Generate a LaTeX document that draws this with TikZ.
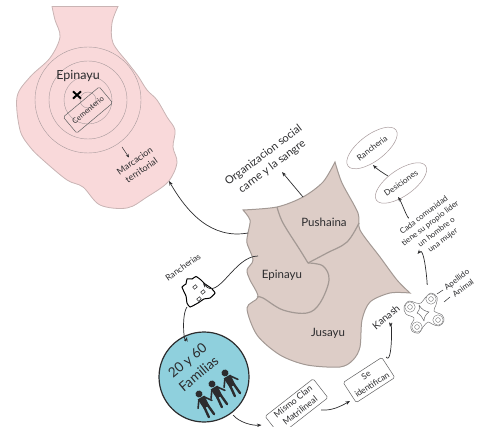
\documentclass[tikz,border=0pt]{standalone}
\usepackage{fontspec}
\setmainfont{Lato}
\usetikzlibrary{calc,arrows.meta,shapes.geometric}
\definecolor{pinkland}{HTML}{F9D9DA}
\definecolor{pinkedge}{HTML}{C9B4B4}
\definecolor{beigeland}{HTML}{DDCDC7}
\definecolor{beigeedge}{HTML}{A39994}
\definecolor{tealfill}{HTML}{8FD0DD}
\definecolor{ink}{HTML}{2C2C2E}
\definecolor{hair}{HTML}{A89A9C}
\tikzset{
  arr/.style={draw=ink,line width=.7pt,-{Stealth[length=4.5pt,width=3.5pt]}},
  txt/.style={text=ink,inner sep=0pt,align=center,font=\fontsize{#1}{#1}\selectfont},
  txt/.default=8,
  lab/.style={text=ink,inner sep=0pt,align=center,rotate=37,font=\fontsize{#1pt}{\dimexpr#1pt*130/100\relax}\selectfont},
  boxy/.style={draw=ink!75,fill=white,line width=.5pt,rounded corners=1.5pt,rotate=#1,minimum height=24pt,inner sep=0pt},
  oval/.style={draw=hair,fill=white,line width=.5pt,inner sep=0pt},
  ringline/.style={draw=hair,line width=.4pt,fill=none},
  border/.style={draw=beigeedge,line width=1.2pt},
  ring/.style={draw=ink!65,fill=white,line width=.4pt},
}
\newcommand{\guy}[2]{%
  \begin{scope}[shift={(#1,#2)},rotate=30]
    \fill[ink] (0,0) circle[radius=3.5pt];
    \fill[ink] (-3.8,4) -- (3.8,4) -- (3.2,15) -- (-3.2,15) -- cycle;
    \draw[ink,line width=2.4pt,line cap=round] (-2,14) -- (-3,25) (2,14) -- (3,25);
    \draw[ink,line width=1.6pt,line cap=round] (-3,5) -- (-8,12) (3,5) -- (8,12);
  \end{scope}}
\begin{document}
\begin{tikzpicture}[x=1pt,y=-1pt]
\useasboundingbox (0,0) rectangle (478,427);
% pink territory
\path[fill=pinkland,draw=pinkedge,line width=.8pt]
  (52,6.5) -- (118,6.5)
  plot[smooth,tension=.55] coordinates {(118,6.5) (112,23) (113,43) (128,63) (138,76) (147,90) (157,100) (167,117) (175,130) (173,147) (177,163) (168,182) (147,197) (127,208) (100,205) (83,187) (67,180) (43,160) (30,147) (20,130) (17,97) (30,77) (50,58) (60,37) (55,20) (52,6.5)} -- cycle;
\coordinate (pinkShore) at (169,181);
\coordinate (ringEdge) at (122,147);
\foreach \r in {53,39,24,8} \draw[ringline] (88,100) circle[radius=\r pt];
\node[txt=12.5] (epiTop) at (78,76) {Epinayu};
\node[boxy=40,fill=none,minimum width=47pt,minimum height=21pt] (cem) at (88,110) {\fontsize{7.5}{7.5}\selectfont\color{ink}Cementerio};
\coordinate (crossC) at (77,95);
\draw[black,line width=1.9pt] ($(crossC)+(-4,-3.6)$) -- ($(crossC)+(4,3.6)$) ($(crossC)+(4,-3.6)$) -- ($(crossC)+(-4,3.6)$);
\node[lab=9,rotate=-2] (marc) at (138,165.5) {Marcacion\\territorial};
\draw[draw=ink,line width=.5pt,-{Stealth[length=3.5pt,width=3pt]}] (ringEdge) -- ($(marc)+(-9,-8)$);
% beige territory
\path[fill=beigeland,draw=beigeedge,line width=1pt]
  plot[smooth,tension=.5] coordinates {(335,162) (342,183) (358,213) (360,230) (380,257) (397,280) (410,293)}
  -- plot[smooth,tension=.5] coordinates {(410,293) (390,293) (370,302) (362,320) (360,347) (353,360) (340,367) (307,365) (280,355) (257,335) (247,308) (258,297) (250,280) (247,270) (253,260) (247,243) (248,233) (250,220) (243,210)}
  -- plot[smooth,tension=.5] coordinates {(243,210) (277,207) (303,197) (323,182) (335,162)} -- cycle;
\draw[border] plot[smooth,tension=.6] coordinates {(277,207) (283,223) (300,250) (308,263)};
\draw[border] plot[smooth,tension=.6] coordinates {(359,223) (347,242) (327,253) (308,263)};
\draw[border] plot[smooth,tension=.6] coordinates {(308,263) (323,266) (329,280) (320,303) (307,313) (283,310) (263,298) (257,297)};
\coordinate (beigeA) at (248,233);
\coordinate (beigeB) at (258,256);
\coordinate (beigeC) at (303,197);
\node[txt=11.5] (push) at (324,222) {Pushaina};
\node[txt=11.5] (epi) at (282,275) {Epinayu};
\node[txt=11.5] (jus) at (328,333) {Jusayu};
% headline
\node[lab=11] (org) at (268,161) {Organizacion social\\carne y la sangre};
\draw[arr] (beigeC) -- ($(org)+(14,11)$);
\draw[arr] (beigeA) to[out=190,in=-60,looseness=1] (pinkShore);
% rancherias
\node[txt=8.5,rotate=35] (ranLab) at (183,267) {Rancherias};
\path[draw=black,fill=white,line width=1pt] plot[smooth cycle,tension=.3] coordinates {(182,287) (186,284) (187,279) (192,279) (196,276.5) (201,280) (205,284) (211,288) (215,293) (210,298) (204,299) (198,303) (190,307) (187,303) (186,296)};
\coordinate (blobTop) at (203,283);
\coordinate (blobBot) at (187,307);
\foreach \p in {(195,287),(203,292),(199,299)} \draw[ink,line width=.5pt,rotate around={40:\p}] \p ++(-1.8,-1.4) rectangle ++(3.6,2.8);
\draw[arr] (beigeB) to[out=180,in=-50,looseness=1] (blobTop);
% families
\node[circle,draw=ink,fill=tealfill,line width=1.2pt,minimum size=90pt,inner sep=0pt] (fam) at (204,377) {};
\node[lab=13.5,rotate=3] (famLab) at (193,367) {20 y 60\\Familias};
\guy{199}{394}\guy{212}{384}\guy{225}{373}
\draw[arr] (blobBot) to[out=-125,in=-105,looseness=.9] ($(fam)+(-17,-40)$);
% bottom boxes
\node[boxy=38,minimum width=61pt] (mismo) at (296.5,407) {};
\node[lab=8.8,rotate=1] (mismoT) at (296.5,406) {Mismo Clan\\Matrilineal};
\node[boxy=33,minimum width=46pt] (se) at (369,380) {};
\node[lab=8.5,rotate=-4] (seT) at (369,380) {Se\\identifican};
\draw[arr] ($(fam)+(29,38)$) to[out=-50,in=185,looseness=.8] ($(mismo)+(-35,18)$);
\draw[arr] ($(mismo)+(24.5,3)$) to[out=-5,in=-150,looseness=.9] ($(se)+(-19,21)$);
% kanash
\node[lab=10,rotate=3] (kan) at (386,317) {Kanash};
\draw[arr] ($(se)+(17,-23)$) to[out=-55,in=80,looseness=1] ($(kan)+(4,10)$);
\path[draw=ink!70,line width=.45pt,fill=white] plot[smooth cycle,tension=.6] coordinates {(425,298) (431,293) (437,297) (436,305) (434,311) (442,315) (444,321) (439,326) (432,324) (428,322) (423,327) (419,333) (412,331) (411,325) (414,318) (406,314) (404,307) (409,301) (416,303) (421,303)};
\coordinate (iconTop) at (427,283);
\foreach \q in {(431,299),(410,307),(438,320),(417,327)} {
  \draw[ring] \q circle[radius=5.2pt];
  \draw[ring] \q circle[radius=2.4pt];
}
\draw[ink!70,line width=.5pt,line join=round] (419,305) .. controls (422,310) and (425,311) .. (429,312) .. controls (426,314) and (424,317) .. (424,321) .. controls (422,317) and (420,314) .. (417,313) .. controls (419,311) and (420,309) .. (419,305) -- cycle;
% apellido, animal
\node[txt=8,rotate=37] (ape) at (457,280) {Apellido};
\node[txt=8,rotate=37] (ani) at (463,288) {Animal};
\coordinate (dashA) at (437,294);
\coordinate (dashB) at (444,302);
\draw[ink,line width=.5pt] (dashA) -- ($(ape)+(-14,10)$);
\draw[ink,line width=.5pt] (dashB) -- ($(ani)+(-13,9)$);
% column
\node[txt=7.9,rotate=37,font=\fontsize{7.9}{10.5}\selectfont] (cada) at (433.5,228) {Cada comunidad\\tiene su propio lider\\un hombre o\\una mujer};
\draw[arr] (iconTop) to[out=-85,in=50,looseness=1] ($(cada)+(-16,26)$);
\node[oval,ellipse,minimum width=60pt,minimum height=26pt,rotate=35] (des) at (401,183) {};
\node[txt=8.2,rotate=35] (desT) at (401,183) {Desiciones};
\node[oval,ellipse,minimum width=60pt,minimum height=26pt,rotate=37] (ran) at (372,148) {};
\node[txt=8.2,rotate=37] (ranT) at (372,148) {Rancheria};
\draw[arr] ($(cada)+(-25,-11)$) to[out=-85,in=-55,looseness=.6] ($(des)+(-3,14)$);
\draw[arr] ($(des)+(-13,-7)$) to[out=150,in=-45,looseness=.8] ($(ran)+(1,17)$);
\end{tikzpicture}
\end{document}
